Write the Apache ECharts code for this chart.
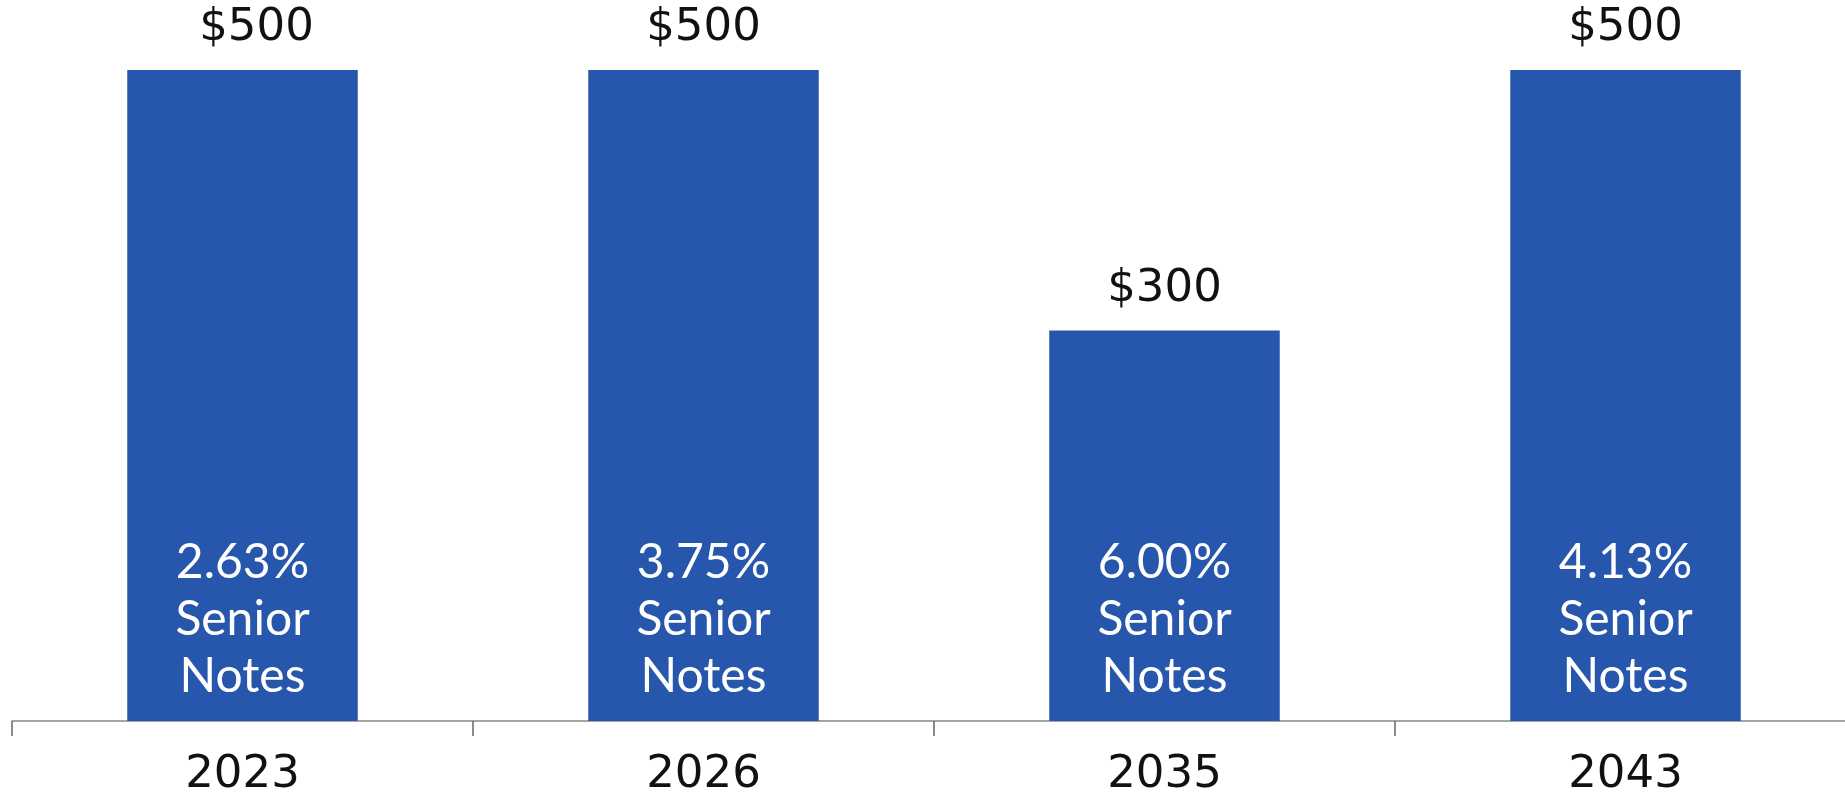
<!DOCTYPE html>
<html>
<head>
<meta charset="utf-8">
<script src="https://cdn.jsdelivr.net/npm/echarts@6/dist/echarts.min.js"></script>
<style>
  html, body { margin: 0; padding: 0; background: #fff; }
  #chart { width: 1845px; height: 797px; }
</style>
</head>
<body>
<div id="chart"></div>
<script>
// 数据
const years = ["2023", "2026", "2035", "2043"];
const amounts = [500, 500, 300, 500];
const rates = ["2.63%", "3.75%", "6.00%", "4.13%"];
const noteName = "Senior\nNotes";

const barColor = "#2756ad";

let myChart = echarts.init(document.getElementById("chart"));

let option = {
    backgroundColor: "#fff",
    animation: false,
    grid: {
        left: 12,
        width: 1844,
        top: 70,
        bottom: 76,
        containLabel: false,
        outerBoundsMode: "none",
    },
    xAxis: {
        type: "category",
        data: years,
        boundaryGap: true,
        axisLine: { show: true, lineStyle: { color: "#888", width: 1.5 } },
        axisTick: { show: true, length: 15, lineStyle: { color: "#666", width: 1.5 } },
        axisLabel: {
            margin: 32,
            fontFamily: "DejaVu Sans",
            fontSize: 45,
            color: "#111",
        },
    },
    yAxis: {
        type: "value",
        min: 0,
        max: 500,
        show: false,
        splitLine: { show: false },
    },
    series: [
        // 柱子 + 内部标签
        {
            type: "bar",
            barWidth: "50%",
            itemStyle: { color: barColor },
            data: amounts.map((v, i) => ({
                value: v,
                label: {
                    formatter: rates[i] + "\n" + noteName,
                },
            })),
            label: {
                show: true,
                position: "insideBottom",
                distance: 16,
                color: "#fff",
                fontFamily: "Lato",
                fontSize: 48,
                lineHeight: 57,
                align: "center",
            },
            z: 2,
        },
        // 顶部金额标签
        {
            type: "bar",
            barWidth: "50%",
            barGap: "-100%",
            itemStyle: { color: "transparent" },
            silent: true,
            data: amounts.map((v, i) => ({
                value: v,
                label: i === 0 ? { offset: [14, 0] } : {},
            })),
            label: {
                show: true,
                position: "top",
                distance: 19,
                formatter: (p) => "$" + p.value,
                fontFamily: "DejaVu Sans",
                fontSize: 45,
                lineHeight: 45,
                color: "#111",
            },
            z: 3,
        },
    ],
};

option && myChart.setOption(option);
</script>
</body>
</html>
